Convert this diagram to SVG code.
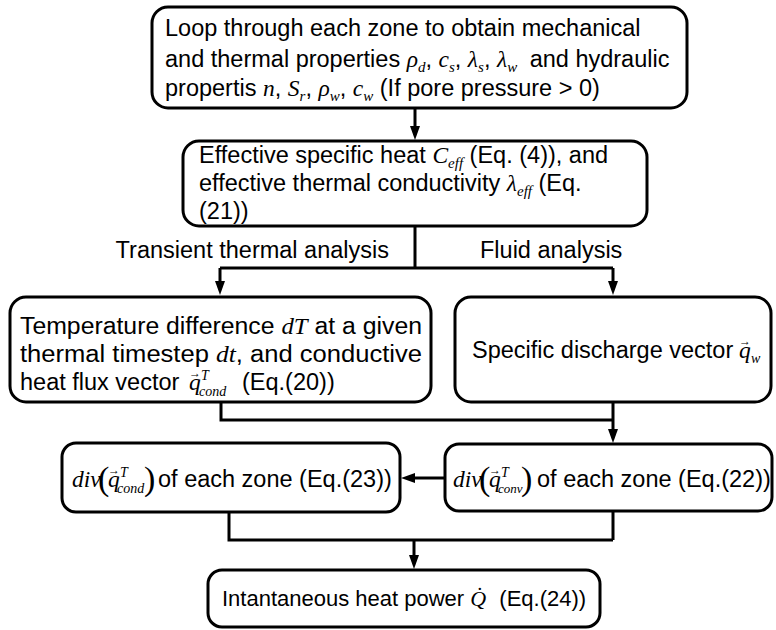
<svg xmlns="http://www.w3.org/2000/svg" width="776" height="630" viewBox="0 0 776 630">
<style>
.box{fill:#fff;stroke:#000;stroke-width:3}
.t{font-family:"Liberation Sans",Arial,sans-serif;font-size:23.5px;fill:#000}
.m{font-family:"Liberation Serif","Times New Roman",serif;font-style:italic;font-size:23.5px;fill:#000}
.s{font-family:"Liberation Serif","Times New Roman",serif;font-style:italic;font-size:15px}
.ss{font-family:"Liberation Serif","Times New Roman",serif;font-style:italic;font-size:14px;fill:#000}
.p{font-family:"Liberation Serif","Times New Roman",serif;font-size:34px;fill:#000}
.v{font-family:"Liberation Serif","DejaVu Serif",serif;font-size:12px;fill:#000}
.c{fill:none;stroke:#000;stroke-width:3}
</style>
<defs>
<marker id="ah" markerUnits="userSpaceOnUse" viewBox="0 0 14 10" markerWidth="14" markerHeight="10" refX="1" refY="5" orient="auto"><path d="M0,0 L14,5 L0,10 z" fill="#000"/></marker>
</defs>
<rect width="776" height="630" fill="#fff"/>
<g id="connectors">
<path class="c" d="M415,108 V127" marker-end="url(#ah)"/>
<path class="c" d="M415,226 V268 M220,268 H613"/>
<path class="c" d="M220,268 V282" marker-end="url(#ah)"/>
<path class="c" d="M613,268 V282" marker-end="url(#ah)"/>
<path class="c" d="M221,402 V420 H613 M613,402 V420"/>
<path class="c" d="M613,420 V430" marker-end="url(#ah)"/>
<path class="c" d="M445,478 H414" marker-end="url(#ah)"/>
<path class="c" d="M229,512 V540 H613 M613,511 V540"/>
<path class="c" d="M414,540 V556" marker-end="url(#ah)"/>
<text class="t" x="389" y="258" text-anchor="end">Transient thermal analysis</text>
<text class="t" x="480" y="258">Fluid analysis</text>
</g>
<g id="n1">
<rect class="box" x="152" y="7" width="535" height="101" rx="16"/>
<text class="t" x="165" y="36">Loop through each zone to obtain mechanical</text>
<text class="t" x="165" y="67">and thermal properties <tspan class="m">ρ</tspan><tspan class="s" dy="5">d</tspan><tspan dy="-5">, </tspan><tspan class="m">c</tspan><tspan class="s" dy="5">s</tspan><tspan dy="-5">, </tspan><tspan class="m">λ</tspan><tspan class="s" dy="5">s</tspan><tspan dy="-5">, </tspan><tspan class="m">λ</tspan><tspan class="s" dy="5">w</tspan><tspan dy="-5" dx="6"> and hydraulic</tspan></text>
<text class="t" x="165" y="96">propertis <tspan class="m">n</tspan>, <tspan class="m">S</tspan><tspan class="s" dy="5">r</tspan><tspan dy="-5">, </tspan><tspan class="m">ρ</tspan><tspan class="s" dy="5">w</tspan><tspan dy="-5">, </tspan><tspan class="m">c</tspan><tspan class="s" dy="5">w</tspan><tspan dy="-5"> (If pore pressure &gt; 0)</tspan></text>
</g>
<g id="n2">
<rect class="box" x="183" y="141" width="464" height="85" rx="16"/>
<text class="t" x="199" y="163">Effective specific heat <tspan class="m">C</tspan><tspan class="s" dy="5">eff</tspan><tspan dy="-5"> (Eq. (4)), and</tspan></text>
<text class="t" x="199" y="191">effective thermal conductivity <tspan class="m">λ</tspan><tspan class="s" dy="5">eff</tspan><tspan dy="-5"> (Eq.</tspan></text>
<text class="t" x="199" y="219">(21))</text>
</g>
<g id="n3">
<rect class="box" x="10" y="297" width="421" height="105" rx="16"/>
<text class="t" x="20" y="334" textLength="402" lengthAdjust="spacingAndGlyphs">Temperature difference <tspan class="m">dT</tspan> at a given</text>
<text class="t" x="20" y="362" textLength="402" lengthAdjust="spacingAndGlyphs">thermal timestep <tspan class="m">dt</tspan>, and conductive</text>
<text class="t" x="20" y="390">heat flux vector</text>
<text class="m" x="189" y="390">q</text>
<text class="v" x="189" y="377">→</text>
<text class="ss" x="201" y="380">T</text>
<text class="ss" x="199" y="396">cond</text>
<text class="t" x="242" y="390">(Eq.(20))</text>
</g>
<g id="n4">
<rect class="box" x="455" y="297" width="316" height="105" rx="16"/>
<text class="t" x="472" y="358">Specific discharge vector</text>
<text class="m" x="739" y="358">q</text>
<text class="v" x="739" y="345">→</text>
<text class="ss" x="751" y="363">w</text>
</g>
<g id="n5">
<rect class="box" x="62" y="443" width="338" height="69" rx="14"/>
<text class="m" x="72" y="487">div</text>
<text class="p" x="98" y="490">(</text>
<text class="m" x="108" y="487">q</text>
<text class="v" x="108" y="474">→</text>
<text class="ss" x="120" y="477">T</text>
<text class="ss" x="117" y="493">cond</text>
<text class="p" x="144" y="490">)</text>
<text class="t" x="158" y="487">of each zone (Eq.(23))</text>
</g>
<g id="n6">
<rect class="box" x="445" y="444" width="327" height="67" rx="14"/>
<text class="m" x="453" y="487">div</text>
<text class="p" x="479" y="490">(</text>
<text class="m" x="489" y="487">q</text>
<text class="v" x="489" y="474">→</text>
<text class="ss" x="501" y="477">T</text>
<text class="ss" x="498" y="493" style="font-size:13px">conv</text>
<text class="p" x="521" y="490">)</text>
<text class="t" x="537" y="487">of each zone (Eq.(22))</text>
</g>
<g id="n7">
<rect class="box" x="208" y="570" width="392" height="57" rx="14"/>
<text class="t" x="222" y="606" style="font-size:22px">Intantaneous heat power <tspan class="m" style="font-size:22px">Q&#x0307;</tspan><tspan dx="7"> (Eq.(24))</tspan></text>
</g>
</svg>
